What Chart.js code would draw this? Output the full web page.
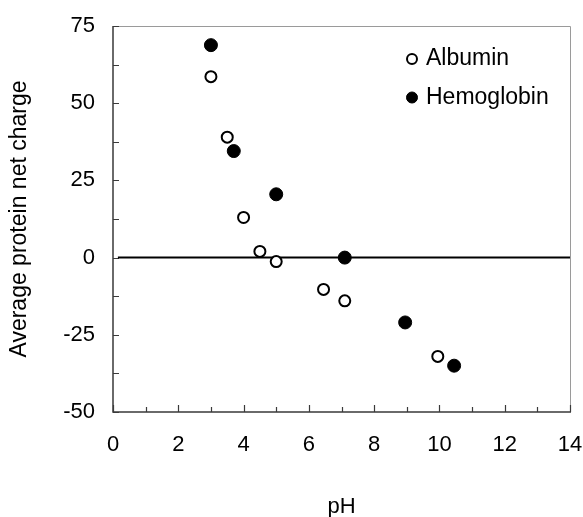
<!DOCTYPE html>
<html>
<head>
<meta charset="utf-8">
<script src="https://cdn.jsdelivr.net/npm/chart.js@4.4.1/dist/chart.umd.min.js"></script>
<style>
  html, body { margin: 0; padding: 0; background: #fff; }
  #chart { display: block; }
</style>
</head>
<body>
<canvas id="chart" width="583" height="517"></canvas>
<script>
// ── Data ──
const albuminPH     = [3.0, 3.5, 4.0, 4.5, 5.0, 6.45, 7.1, 9.95];
const albuminCharge = [58.6, 39.0, 13.0, 2.0, -1.3, -10.3, -14.0, -32.0];

const hemoPH     = [3.0, 3.7, 5.0, 7.1, 8.95, 10.45];
const hemoCharge = [68.8, 34.5, 20.5, 0.0, -21.0, -35.0];

// zero reference line
const zeroLineX = [0.15, 14];
const zeroLineY = [0, 0];

// axis ticks
const xTicks = [0, 2, 4, 6, 8, 10, 12, 14];
const xMinor = [1, 3, 5, 7, 9, 11, 13];
const yTicks = [-50, -25, 0, 25, 50, 75];
const yMinor = [-37.5, -12.5, 12.5, 37.5, 62.5];

const FONT = "'Liberation Sans', Arial, sans-serif";

const toPts = (xs, ys) => xs.map((v, i) => ({ x: v, y: ys[i] }));

// ── Frame + inward ticks ──
const framePlugin = {
  id: 'frame',
  beforeDatasetsDraw(chart) {
    const { ctx, chartArea: a, scales: { x, y } } = chart;
    ctx.save();
    // top & right: light grey
    ctx.strokeStyle = '#9a9a9a';
    ctx.lineWidth = 1;
    ctx.beginPath();
    ctx.moveTo(a.left, a.top + 0.5);
    ctx.lineTo(a.right + 0.5, a.top + 0.5);
    ctx.lineTo(a.right + 0.5, a.bottom);
    ctx.stroke();
    // left & bottom axes
    ctx.strokeStyle = '#3a3a3a';
    ctx.lineWidth = 1.5;
    ctx.beginPath();
    ctx.moveTo(a.left, a.top);
    ctx.lineTo(a.left, a.bottom);
    ctx.lineTo(a.right + 1, a.bottom);
    ctx.stroke();
    // ticks
    ctx.lineWidth = 1.2;
    ctx.beginPath();
    xTicks.concat(xMinor).forEach(v => {
      const px = Math.round(x.getPixelForValue(v)) + 0.5;
      const len = xMinor.includes(v) ? 5 : 7;
      ctx.moveTo(px, a.bottom);
      ctx.lineTo(px, a.bottom - len);
    });
    yTicks.concat(yMinor).forEach(v => {
      const py = Math.round(y.getPixelForValue(v)) + 0.5;
      ctx.moveTo(a.left, py);
      ctx.lineTo(a.left + 6, py);
    });
    ctx.stroke();
    ctx.restore();
  }
};

// ── Legend drawn inside the plot (top right) ──
const insideLegend = {
  id: 'insideLegend',
  afterDraw(chart) {
    const { ctx } = chart;
    const items = chart.data.datasets.filter(d => d.label);
    ctx.save();
    ctx.font = '23px ' + FONT;
    ctx.textBaseline = 'middle';
    items.forEach((d, i) => {
      const cy = 59 + i * 38.5;
      ctx.beginPath();
      ctx.arc(412, cy, d.legendR, 0, Math.PI * 2);
      ctx.fillStyle = d.backgroundColor;
      ctx.fill();
      ctx.lineWidth = d.borderWidth;
      ctx.strokeStyle = d.borderColor;
      ctx.stroke();
      ctx.fillStyle = '#000';
      ctx.fillText(d.label, 426, cy);
    });
    ctx.restore();
  }
};

new Chart(document.getElementById('chart').getContext('2d'), {
  type: 'scatter',
  data: {
    datasets: [
      {
        label: 'Albumin',
        data: toPts(albuminPH, albuminCharge),
        pointRadius: 5.5,
        pointHoverRadius: 5.5,
        borderWidth: 2,
        borderColor: '#000',
        backgroundColor: '#fff',
        legendR: 5
      },
      {
        label: 'Hemoglobin',
        data: toPts(hemoPH, hemoCharge),
        pointRadius: 6.5,
        pointHoverRadius: 6.5,
        borderWidth: 1,
        borderColor: '#000',
        backgroundColor: '#000',
        legendR: 5.5
      },
      {
        type: 'line',
        data: toPts(zeroLineX, zeroLineY),
        borderColor: '#000',
        borderWidth: 2,
        pointRadius: 0,
        fill: false,
        order: 10
      }
    ]
  },
  options: {
    responsive: false,
    animation: false,
    events: [],
    layout: { padding: { top: 26, right: 13, left: 0, bottom: 0 } },
    plugins: { legend: { display: false }, tooltip: { enabled: false } },
    scales: {
      x: {
        type: 'linear',
        min: 0, max: 14,
        afterBuildTicks: s => { s.ticks = xTicks.map(v => ({ value: v })); },
        afterFit: s => { s.height = 105; s.paddingLeft = 0; s.paddingRight = 0; },
        grid: { display: false, drawTicks: false },
        border: { display: false },
        ticks: { color: '#000', padding: 20, font: { family: FONT, size: 22 } },
        title: {
          display: true, text: 'pH', color: '#000',
          font: { family: FONT, size: 22, lineHeight: 1 },
          padding: { top: 0, bottom: -1 }
        }
      },
      y: {
        type: 'linear',
        min: -50, max: 75,
        afterBuildTicks: s => { s.ticks = yTicks.map(v => ({ value: v })); },
        afterFit: s => { s.width = 113; s.paddingTop = 0; s.paddingBottom = 0; },
        grid: { display: false, drawTicks: false },
        border: { display: false },
        ticks: { color: '#000', padding: 18, font: { family: FONT, size: 22 } },
        title: {
          display: true, text: 'Average protein net charge', color: '#000',
          font: { family: FONT, size: 23, lineHeight: 1 },
          padding: { top: 8.5, bottom: 0 }
        }
      }
    }
  },
  plugins: [framePlugin, insideLegend]
});
</script>
</body>
</html>
